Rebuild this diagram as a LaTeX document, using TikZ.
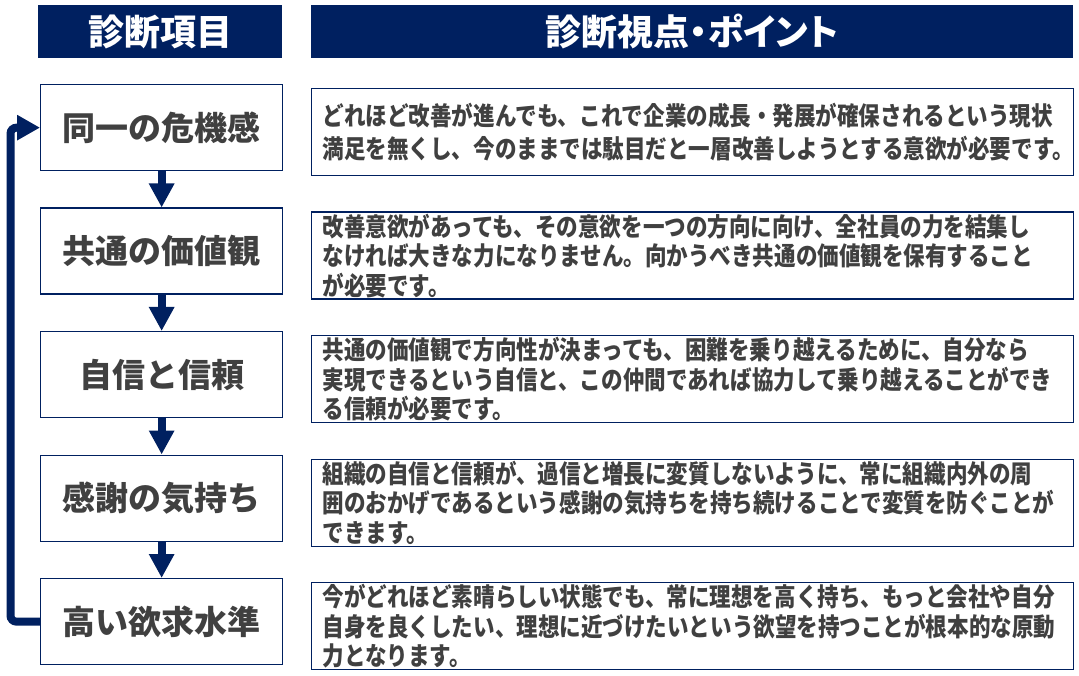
\documentclass[tikz,border=0pt]{standalone}
\usepackage{fontspec}
\setmainfont{Noto Sans CJK JP}
\newfontfamily\jpbody[FakeStretch=0.845]{Noto Sans CJK JP}
\newfontfamily\jphead[RawFeature=+palt]{Noto Sans CJK JP}
\usetikzlibrary{arrows.meta}
\definecolor{navy}{HTML}{002060}
\definecolor{txt}{HTML}{404040}
\begin{document}
\begin{tikzpicture}[x=1pt,y=-1pt,
  head/.style={fill=navy, text=white, font=\jphead\fontsize{36}{36}\selectfont\bfseries, inner sep=0pt, anchor=north west, minimum height=53pt},
  item/.style={draw=navy, line width=1.3pt, fill=white, text=txt, font=\fontsize{33}{33}\selectfont\bfseries, minimum width=242pt, minimum height=86pt, anchor=north west, inner sep=0pt},
  desc/.style={draw=navy, line width=1.3pt, fill=white, text=txt, font=\jpbody\fontsize{25.5}{29.5}\selectfont\bfseries, minimum height=87pt, text width=740pt, align=left, inner xsep=11pt, inner ysep=0pt, anchor=north west},
  flow/.style={draw=navy, line width=8pt, -{Triangle[width=24pt,length=24pt]}}
]
\useasboundingbox[fill=white] (0,0) rectangle (1079,676);

\node[head, minimum width=244pt] (h1) at (38,5) {診断項目};
\node[head, minimum width=762pt] (h2) at (311,5) {診断視点・ポイント};

\node[item] (i1) at (40,84) {同一の危機感};
\node[item] (i2) at (40,207.5) {共通の価値観};
\node[item] (i3) at (40,331) {自信と信頼};
\node[item] (i4) at (40,454.5) {感謝の気持ち};
\node[item] (i5) at (40,578) {高い欲求水準};

\node[desc, font=\jpbody\fontsize{25.5}{33}\selectfont\bfseries] (d1) at (311,88) {どれほど改善が進んでも、これで企業の成長・発展が確保されるという現状\\満足を無くし、今のままでは駄目だと一層改善しようとする意欲が必要です。};
\node[desc] (d2) at (311,211.5) {改善意欲があっても、その意欲を一つの方向に向け、全社員の力を結集し\\なければ大きな力になりません。向かうべき共通の価値観を保有すること\\が必要です。};
\node[desc] (d3) at (311,335) {共通の価値観で方向性が決まっても、困難を乗り越えるために、自分なら\\実現できるという自信と、この仲間であれば協力して乗り越えることができ\\る信頼が必要です。};
\node[desc] (d4) at (311,458.5) {組織の自信と信頼が、過信と増長に変質しないように、常に組織内外の周\\囲のおかげであるという感謝の気持ちを持ち続けることで変質を防ぐことが\\できます。};
\node[desc] (d5) at (311,582) {今がどれほど素晴らしい状態でも、常に理想を高く持ち、もっと会社や自分\\自身を良くしたい、理想に近づけたいという欲望を持つことが根本的な原動\\力となります。};

\draw[flow] (i1.south) -- (i2.north);
\draw[flow] (i2.south) -- (i3.north);
\draw[flow] (i3.south) -- (i4.north);
\draw[flow] (i4.south) -- (i5.north);
\draw[flow, rounded corners=6pt, -{Triangle[width=24pt,length=23pt]}] (i5.west) -- ++(-29.5,0) |- (i1.west);
\end{tikzpicture}
\end{document}
